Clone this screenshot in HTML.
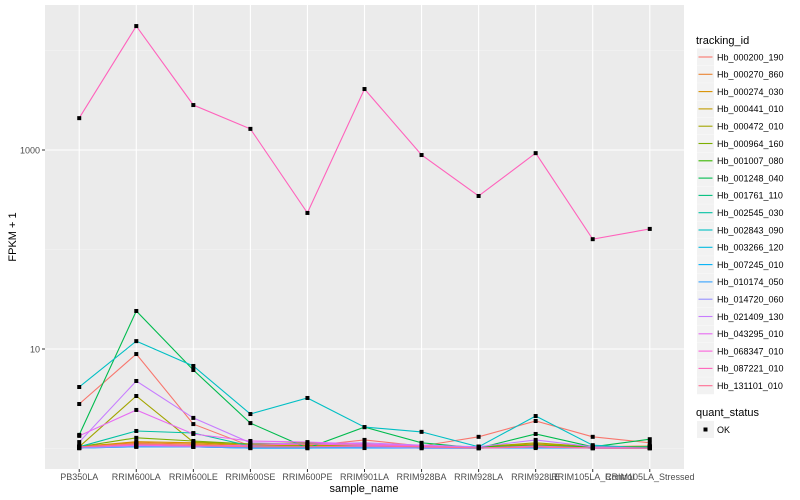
<!DOCTYPE html>
<html><head><meta charset="utf-8">
<style>
body{margin:0;background:#fff;}
svg{display:block;font-family:"Liberation Sans",sans-serif;}
</style></head>
<body>
<svg id="chart" width="800" height="500" xmlns="http://www.w3.org/2000/svg">
<rect x="0" y="0" width="800" height="500" fill="#fff"/>
<rect x="45" y="5" width="639" height="464" fill="#EBEBEB"/>
<g id="grid"></g><g id="lines"></g><g id="pts"></g><g id="axes"></g><g id="legend"></g>
<text x="16" y="237" font-size="11" text-anchor="middle" transform="rotate(-90 16 237)">FPKM + 1</text>
<text x="364" y="492" font-size="11" text-anchor="middle">sample_name</text>
</svg>
<script>
const categories=["PB350LA","RRIM600LA","RRIM600LE","RRIM600SE","RRIM600PE","RRIM901LA","RRIM928BA","RRIM928LA","RRIM928LE","RRIM105LA_Control","RRIM105LA_Stressed"];
const seriesIds=["Hb_000200_190","Hb_000270_860","Hb_000274_030","Hb_000441_010","Hb_000472_010","Hb_000964_160","Hb_001007_080","Hb_001248_040","Hb_001761_110","Hb_002545_030","Hb_002843_090","Hb_003266_120","Hb_007245_010","Hb_010174_050","Hb_014720_060","Hb_021409_130","Hb_043295_010","Hb_068347_010","Hb_087221_010","Hb_131101_010"];
const colors=["#F8766D","#EA8331","#D89000","#C09B00","#A3A500","#7CAE00","#39B600","#00BB4E","#00BF7D","#00C1A3","#00BFC4","#00BAE0","#00B0F6","#35A2FF","#9590FF","#C77CFF","#E76BF3","#FA62DB","#FF62BC","#FF6C91"];
const v000200=[2.80,8.9,1.76,1.06,1.06,1.22,1.06,1.31,1.89,1.31,1.14];
const v000270=[1.06,1.14,1.11,1.06,1.08,1.06,1.04,1.04,1.08,1.04,1.06];
const v000274=[1.04,1.17,1.14,1.08,1.11,1.08,1.04,1.04,1.11,1.04,1.04];
const v000441=[1.04,1.11,1.08,1.06,1.08,1.06,1.04,1.04,1.06,1.04,1.04];
const v000472=[1.04,3.37,1.16,1.11,1.06,1.08,1.04,1.04,1.14,1.04,1.01];
const v000964=[1.04,1.28,1.19,1.11,1.14,1.11,1.06,1.04,1.08,1.04,1.04];
const v001007=[1.04,1.08,1.06,1.04,1.04,1.06,1.04,1.04,1.06,1.04,1.04];
const v001248=[1.37,24.1,6.15,1.80,1.01,1.64,1.14,1.01,1.40,1.04,1.24];
const v001761=[1.01,1.06,1.06,1.04,1.04,1.04,1.01,1.01,1.04,1.01,1.01];
const v002545=[1.04,1.50,1.43,1.06,1.01,1.06,1.04,1.01,1.06,1.01,1.04];
const v002843=[4.15,12.0,6.75,2.22,3.22,1.64,1.47,1.04,2.12,1.08,1.01];
const v003266=[1.01,1.04,1.04,1.01,1.01,1.04,1.01,1.01,1.04,1.01,1.01];
const v007245=[1.01,1.06,1.04,1.01,1.01,1.04,1.01,1.01,1.04,1.01,1.01];
const v010174=[1.01,1.04,1.04,1.01,1.01,1.01,1.01,1.01,1.01,1.01,1.01];
const v014720=[1.01,1.06,1.04,1.04,1.04,1.04,1.01,1.01,1.04,1.01,1.01];
const v021409=[1.16,4.77,2.03,1.14,1.11,1.14,1.08,1.04,1.22,1.04,1.01];
const v043295=[1.34,2.44,1.40,1.19,1.16,1.11,1.06,1.01,1.06,1.01,1.01];
const v068347=[1.04,1.08,1.06,1.08,1.11,1.08,1.06,1.01,1.04,1.01,1.01];
const v087221=[2090,17600,2830,1630,233,4100,890,345,930,127,161];
const v131101=[1.04,1.11,1.08,1.04,1.04,1.06,1.04,1.01,1.04,1.01,1.01];
const allValues=[v000200,v000270,v000274,v000441,v000472,v000964,v001007,v001248,v001761,v002545,v002843,v003266,v007245,v010174,v014720,v021409,v043295,v068347,v087221,v131101];
const yMajor=[10,1000];const yMajorLabels=["10","1000"];const yMinor=[1,100,10000];

const NS="http://www.w3.org/2000/svg";
function mk(tag,attrs,parent){const e=document.createElementNS(NS,tag);for(const k in attrs)e.setAttribute(k,attrs[k]);parent.appendChild(e);return e;}
const PL=45,PR=684,PT=5,PB=469;
const n=categories.length;
const step=(PR-PL)/(n-1+1.2);
function xPos(i){return PL+step*(0.6+i);}
function yPos(v){return 448.5-Math.log10(v)*99.5;}
const grid=document.getElementById('grid'),lines=document.getElementById('lines'),pts=document.getElementById('pts'),axes=document.getElementById('axes'),legend=document.getElementById('legend');
yMinor.forEach(v=>{const l=mk('line',{x1:PL,x2:PR,y1:yPos(v),y2:yPos(v),stroke:'#F5F5F5','stroke-width':0.6},grid);

});
yMajor.forEach((v,i)=>{const y=yPos(v);const l=mk('line',{x1:PL,x2:PR,y1:y,y2:y,stroke:'#fff','stroke-width':1.1},grid);


mk('line',{x1:PL-3,x2:PL,y1:y,y2:y,stroke:'#333','stroke-width':1},axes);
const t=mk('text',{x:PL-5,y:y+3.5,'font-size':9,'text-anchor':'end',fill:'#4D4D4D'},axes);t.textContent=yMajorLabels[i];

});
categories.forEach((c,i)=>{const x=xPos(i);const l=mk('line',{x1:x,x2:x,y1:PT,y2:PB,stroke:'#fff','stroke-width':1.1},grid);


mk('line',{x1:x,x2:x,y1:PB,y2:PB+3,stroke:'#333','stroke-width':1},axes);
const t=mk('text',{x:x,y:PB+11,'font-size':9,'text-anchor':'middle',fill:'#4D4D4D'},axes);t.textContent=c;

});
const order=[...allValues.keys()];
order.forEach(s=>{const vals=allValues[s];const d=vals.map((v,i)=>(i?'L':'M')+xPos(i).toFixed(1)+' '+yPos(v).toFixed(1)).join(' ');
const p=mk('path',{d:d,fill:'none',stroke:colors[s],'stroke-width':1.1},lines);


vals.forEach((v,i)=>{const r=mk('rect',{x:xPos(i)-2,y:yPos(v)-2,width:4,height:4,fill:'#000'},pts);

});});
const lt=mk('text',{x:696,y:44,'font-size':11},legend);lt.textContent='tracking_id';


seriesIds.forEach((id,i)=>{const y=57+i*17.3;
const g=mk('g',{},legend);


mk('rect',{x:697,y:y-8.5,width:17,height:17,fill:'#F2F2F2'},g);
mk('line',{x1:698.5,x2:712.5,y1:y,y2:y,stroke:colors[i],'stroke-width':1.1},g);
const t=mk('text',{x:717,y:y+3.3,'font-size':9},g);t.textContent=id;});
const qt=mk('text',{x:696,y:416,'font-size':11},legend);qt.textContent='quant_status';


const qg=mk('g',{},legend);


mk('rect',{x:697,y:421,width:17,height:17,fill:'#F2F2F2'},qg);
mk('rect',{x:703.5,y:427.5,width:4,height:4,fill:'#000'},qg);
const ok=mk('text',{x:717,y:432.8,'font-size':9},qg);ok.textContent='OK';
</script>
</body></html>
